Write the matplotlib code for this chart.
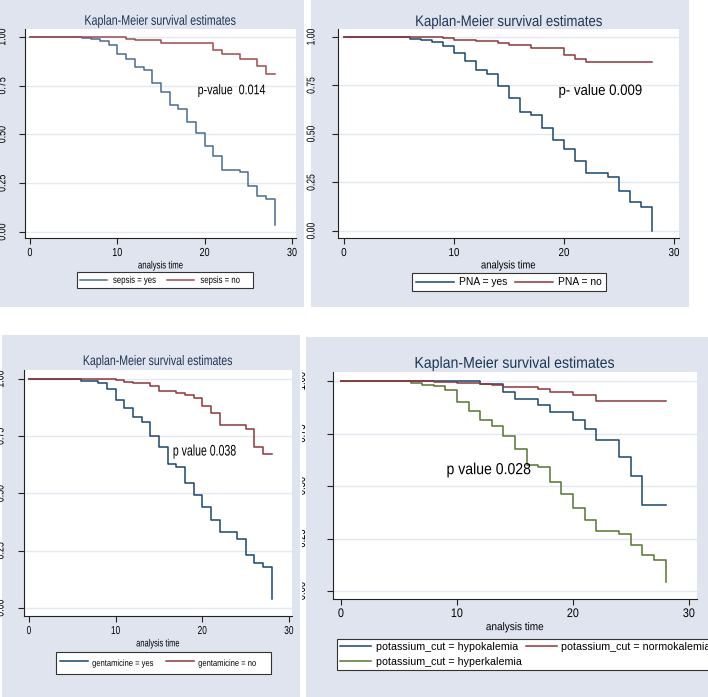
import matplotlib
matplotlib.use("Agg")
import matplotlib.pyplot as plt
from matplotlib.patches import Rectangle
from matplotlib.transforms import Bbox, TransformedBbox, Affine2D
from matplotlib.patheffects import AbstractPathEffect

# ---------------- data ----------------
title = "Kaplan-Meier survival estimates"
xlabel = "analysis time"
xticks = [0, 10, 20, 30]
yticks = [0.00, 0.25, 0.50, 0.75, 1.00]

sepsis_yes_t = [0, 6, 7, 8, 9, 10, 11, 12, 13, 14, 15, 16, 17, 18, 19, 20, 21, 22, 24, 25, 26, 27, 28]
sepsis_yes_s = [1, 0.995, 0.99, 0.982, 0.961, 0.915, 0.889, 0.846, 0.829, 0.766, 0.718, 0.65, 0.629,
                0.564, 0.508, 0.441, 0.388, 0.316, 0.308, 0.236, 0.183, 0.169, 0.034]
sepsis_no_t = [0, 10, 11, 12, 15, 21, 22, 24, 26, 27, 28]
sepsis_no_s = [1, 0.998, 0.991, 0.986, 0.971, 0.935, 0.915, 0.889, 0.851, 0.812, 0.812]

pna_yes_t = [0, 6, 7, 8, 9, 10, 11, 12, 13, 14, 15, 16, 17, 18, 19, 20, 21, 22, 24, 25, 26, 27, 28]
pna_yes_s = [1, 0.99, 0.985, 0.975, 0.952, 0.919, 0.875, 0.828, 0.811, 0.748, 0.683, 0.614, 0.597,
             0.532, 0.468, 0.422, 0.360, 0.300, 0.280, 0.206, 0.151, 0.122, 0.0]
pna_no_t = [0, 9, 10, 12, 14, 15, 17, 20, 21, 22, 28]
pna_no_s = [1, 0.997, 0.983, 0.978, 0.969, 0.961, 0.943, 0.906, 0.885, 0.870, 0.870]

gent_yes_t = [0, 6, 8, 9, 10, 11, 12, 13, 14, 15, 16, 17, 18, 19, 20, 21, 22, 24, 25, 26, 27, 28]
gent_yes_s = [1, 0.991, 0.981, 0.955, 0.908, 0.875, 0.833, 0.811, 0.751, 0.705, 0.628, 0.614, 0.545,
              0.494, 0.440, 0.382, 0.331, 0.301, 0.230, 0.196, 0.179, 0.039]
gent_no_t = [0, 10, 11, 12, 14, 15, 17, 18, 19, 20, 21, 22, 25, 26, 27, 28]
gent_no_s = [1, 0.996, 0.988, 0.981, 0.967, 0.948, 0.940, 0.930, 0.916, 0.882, 0.850, 0.799, 0.781,
             0.702, 0.672, 0.672]

hypo_t = [0, 12, 14, 15, 17, 18, 20, 21, 22, 24, 25, 26, 28]
hypo_s = [1, 0.987, 0.95, 0.916, 0.884, 0.853, 0.816, 0.773, 0.718, 0.639, 0.548, 0.412, 0.412]
normo_t = [0, 8, 10, 12, 13, 14, 17, 18, 20, 22, 28]
normo_s = [1, 0.995, 0.992, 0.987, 0.983, 0.971, 0.96, 0.948, 0.932, 0.905, 0.905]
hyper_t = [0, 6, 7, 8, 9, 10, 11, 12, 13, 14, 15, 16, 17, 18, 19, 20, 21, 22, 24, 25, 26, 27, 28]
hyper_s = [1, 0.99, 0.979, 0.975, 0.956, 0.90, 0.856, 0.816, 0.784, 0.737, 0.678, 0.599, 0.591,
           0.520, 0.464, 0.396, 0.338, 0.287, 0.271, 0.219, 0.171, 0.147, 0.041]

pvals = ["p-value  0.014", "p- value 0.009", "p value 0.038", "p value 0.028"]
pval_pos = [(19.2, 0.727), (19.5, 0.722), (16.6, 0.683), (9.1, 0.578)]

# ---------------- style ----------------
NAVY = "#1A476F"
MAROON = "#90353B"
GREEN = "#55752F"
BG = "#DFE4EE"
GRID = "#E4E8F0"
TITLE_C = "#1E3556"
FONT = "Liberation Sans"
plt.rcParams["font.family"] = [FONT, "DejaVu Sans"]


class Squeeze(AbstractPathEffect):
    """Draw text glyphs horizontally condensed (Stata-export look)."""

    def __init__(self, sx, anchor="center"):
        super().__init__()
        self.sx = sx
        self.anchor = anchor

    def draw_path(self, renderer, gc, tpath, affine, rgbFace=None):
        shift = 0.0
        if len(tpath.vertices):
            w = tpath.get_extents().x1
            if self.anchor == "center":
                shift = (1 - self.sx) * w / 2
            elif self.anchor == "right":
                shift = (1 - self.sx) * w
        renderer.draw_path(gc, tpath, Affine2D().scale(self.sx, 1).translate(shift, 0) + affine, rgbFace)


W, H = 708, 697
fig = plt.figure(figsize=(W / 100, H / 100), dpi=100)
fig.patch.set_facecolor("white")


def rect(l, t, r, b):
    fig.patches.append(Rectangle((l / W, 1 - b / H), (r - l) / W, (b - t) / H,
                                 transform=fig.transFigure, facecolor=BG,
                                 edgecolor="none", zorder=-5))


def make_ax(l, t, r, b):
    return fig.add_axes([l / W, 1 - b / H, (r - l) / W, (b - t) / H])


rect(0, 0, 304, 307)
rect(311, 0, 689, 307)
rect(2, 335, 300, 697)
rect(306, 337, 708, 697)


def style(ax, xlim, ylim, cfg):
    ax.set_facecolor("white")
    for s in ("top", "right"):
        ax.spines[s].set_visible(False)
    for s in ("left", "bottom"):
        ax.spines[s].set_color("#222222")
        ax.spines[s].set_linewidth(0.8)
    ax.set_xlim(*xlim)
    ax.set_ylim(*ylim)
    ax.set_xticks(xticks, [str(v) for v in xticks], fontsize=cfg["xt"][0],
                  path_effects=[Squeeze(cfg["xt"][1])])
    ax.set_yticks(yticks, [f"{v:.2f}" for v in yticks], fontsize=cfg["yt"][0],
                  rotation=90, va="center", path_effects=[Squeeze(cfg["yt"][1])])
    ax.tick_params(axis="both", direction="out", length=4, width=0.8, color="#222222")
    ax.tick_params(axis="y", pad=cfg["ypad"])
    ax.tick_params(axis="x", pad=2.5)
    ax.yaxis.grid(True, color=GRID, lw=1.0)
    ax.set_axisbelow(True)
    ax.set_xlabel(xlabel, fontsize=cfg["xl"][0], labelpad=cfg["xlpad"],
                  path_effects=[Squeeze(cfg["xl"][1])])
    ax.set_title(title, fontsize=cfg["ti"][0], color=TITLE_C, pad=cfg["tpad"],
                 path_effects=[Squeeze(cfg["ti"][1])])


def ptext(ax, i, size, sx):
    ax.text(*pval_pos[i], pvals[i], fontsize=size, va="center", ha="left",
            path_effects=[Squeeze(sx, "left")])


def legend(ax, x, y, sx=1.0, **kw):
    lg = ax.legend(loc="upper left", bbox_to_anchor=(x / W, 1 - y / H),
                   bbox_transform=fig.transFigure, ncol=2, fancybox=False,
                   edgecolor="#333333", framealpha=1, borderaxespad=0, **kw)
    lg.get_frame().set_linewidth(0.8)
    if sx != 1.0:
        for t in lg.get_texts():
            t.set_path_effects([Squeeze(sx, "left")])
    return lg


LW = 1.1

# Panel 1: sepsis
ax1 = make_ax(25, 29, 296, 238)
style(ax1, (-0.57, 30.46), (-0.031, 1.041),
      dict(xt=(8.4, 0.77), yt=(8.5, 0.75), xl=(7.6, 0.74), ti=(10, 0.77),
           ypad=8, xlpad=1, tpad=3))
ax1.step(sepsis_yes_t, sepsis_yes_s, where="post", color="#4C6B8C", lw=LW, label="sepsis = yes")
ax1.step(sepsis_no_t, sepsis_no_s, where="post", color="#A04A50", lw=LW, label="sepsis = no")
ptext(ax1, 0, 10, 0.77)
legend(ax1, 77, 272, sx=0.8, fontsize=7, handlelength=2.78, handletextpad=0.62,
       columnspacing=0.0, borderpad=0.3)

# Panel 2: PNA
ax2 = make_ax(338, 29, 679, 238)
style(ax2, (-0.545, 30.45), (-0.036, 1.041),
      dict(xt=(8.3, 0.85), yt=(8.2, 0.75), xl=(8, 0.85), ti=(11, 0.865),
           ypad=11.5, xlpad=1, tpad=2))
ax2.step(pna_yes_t, pna_yes_s, where="post", color=NAVY, lw=LW, label="PNA = yes")
ax2.step(pna_no_t, pna_no_s, where="post", color=MAROON, lw=LW, label="PNA = no")
ptext(ax2, 1, 10.8, 0.88)
legend(ax2, 412, 273, fontsize=7.4, handlelength=3.7, handletextpad=0.5, columnspacing=0.7,
       borderpad=0.4)

# Panel 3: gentamicine
ax3 = make_ax(24, 370, 292, 616)
style(ax3, (-0.577, 30.35), (-0.035, 1.039),
      dict(xt=(8.3, 0.72), yt=(8.5, 0.75), xl=(7.5, 0.72), ti=(10, 0.76),
           ypad=8.6, xlpad=1, tpad=3.6))
ax3.step(gent_yes_t, gent_yes_s, where="post", color=NAVY, lw=LW, label="gentamicine = yes")
ax3.step(gent_no_t, gent_no_s, where="post", color=MAROON, lw=LW, label="gentamicine = no")
ptext(ax3, 2, 11, 0.69)
legend(ax3, 56, 652, sx=0.84, fontsize=6.5, handlelength=3.1, handletextpad=0.45,
       columnspacing=0.1, borderpad=0.45, handleheight=2.0)

# Panel 4: potassium
ax4 = make_ax(333, 372, 697, 599)
style(ax4, (-0.69, 30.7), (-0.038, 1.043),
      dict(xt=(9, 0.86), yt=(9, 0.75), xl=(8, 0.9), ti=(11.3, 0.9),
           ypad=14, xlpad=1.5, tpad=3))
ax4.step(hypo_t, hypo_s, where="post", color=NAVY, lw=LW, label="potassium_cut = hypokalemia")
ax4.step(hyper_t, hyper_s, where="post", color=GREEN, lw=LW, label="potassium_cut = hyperkalemia")
ax4.step(normo_t, normo_s, where="post", color=MAROON, lw=LW, label="potassium_cut = normokalemia")
ptext(ax4, 3, 11.5, 0.88)
legend(ax4, 337, 639, fontsize=7.7, handlelength=2.9, handletextpad=0.45, columnspacing=0.35,
       borderpad=0.3, labelspacing=0.44)

# clip panel-4 y tick labels at the panel seam (as in the composed image)
clip = TransformedBbox(Bbox.from_extents(301.5 / W, 0, 1, 1), fig.transFigure)
for t in ax4.yaxis.get_major_ticks():
    t.label1.set_clip_box(clip)
    t.label1.set_clip_on(True)

fig.savefig("out.png", dpi=100, facecolor="white")
